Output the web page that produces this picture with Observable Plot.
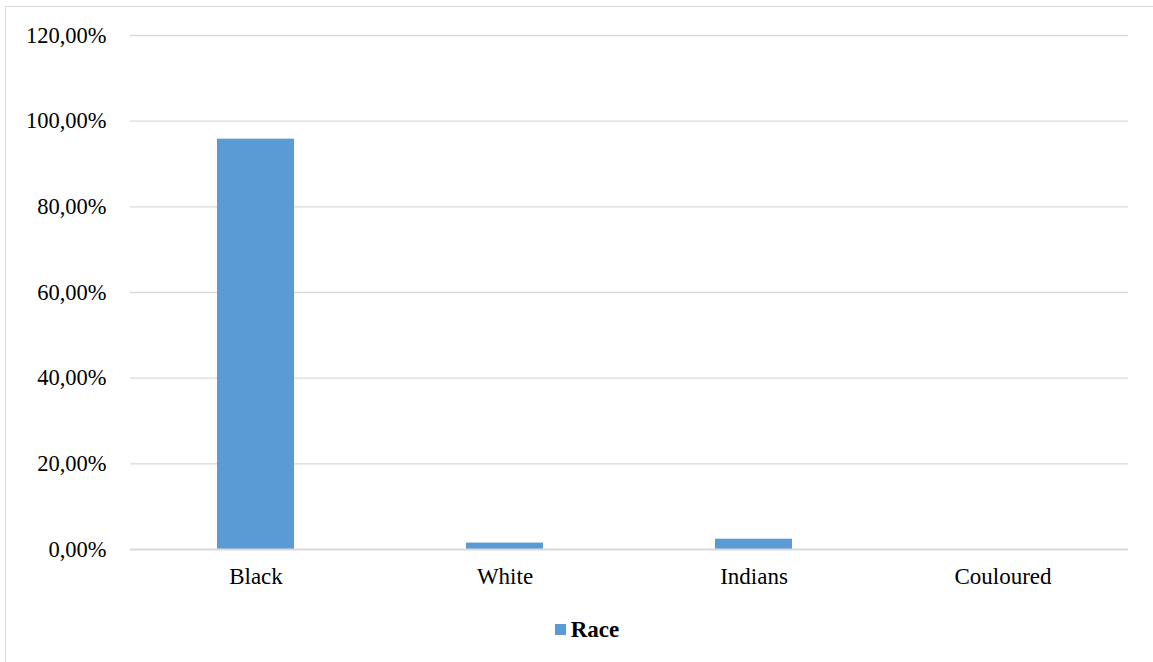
<!DOCTYPE html>
<html>
<head>
<meta charset="utf-8">
<script src="https://cdn.jsdelivr.net/npm/d3@7"></script>
<script src="https://cdn.jsdelivr.net/npm/@observablehq/plot@0.6"></script>
<style>
  html, body { margin: 0; padding: 0; background: #fff; overflow: hidden; }
  #frame {
    position: absolute; left: 5px; top: 6px; width: 1170px; height: 700px;
    border: 1.5px solid #d9d9d9; box-sizing: border-box;
  }
  #chart { position: absolute; left: 0; top: 0; }
  #legend {
    position: absolute; left: 0; top: 615px; width: 1174px; text-align: center;
    font-family: "Liberation Serif", "Times New Roman", serif; font-size: 23px;
    font-weight: bold; color: #000; line-height: 30px;
  }
  #legend .sw { display: inline-block; width: 11px; height: 11px; background: #5b9bd5; margin-right: 5px; vertical-align: 2px; }
</style>
</head>
<body>
<div id="frame"></div>
<div id="chart"></div>
<div id="legend"><span class="sw"></span>Race</div>
<script>
// Share of respondents by race (percent)
const categories = ["Black", "White", "Indians", "Couloured"];
const values = [95.8, 1.5, 2.4, 0];
const yTicks = [0, 20, 40, 60, 80, 100, 120];

const data = categories.map((c, i) => ({category: c, value: values[i]}));
const pct = d => d.toFixed(2).replace(".", ",") + "%";

const chart = Plot.plot({
  width: 1153,
  height: 600,
  marginTop: 35,
  marginBottom: 51,
  marginLeft: 130,
  marginRight: 25,
  style: {fontFamily: "'Liberation Serif', 'Times New Roman', serif", fontSize: "22px", color: "#000", background: "transparent"},
  x: {domain: categories, paddingInner: 0.69, paddingOuter: 0.345, label: null},
  y: {domain: [0, 120], ticks: yTicks, label: null},
  marks: [
    Plot.gridY(yTicks.filter(t => t > 0), {stroke: "#d9d9d9", strokeOpacity: 1, strokeWidth: 1.3}),
    Plot.barY(data, {x: "category", y: "value", fill: "#5b9bd5"}),
    Plot.ruleY([0], {stroke: "#d9d9d9", strokeWidth: 2}),
    Plot.axisY(yTicks, {tickSize: 0, tickPadding: 24, tickFormat: pct, fontSize: 22.5, fill: "#000"}),
    Plot.axisX({tickSize: 0, tickPadding: 18, fontSize: 23, fill: "#000"})
  ]
});
document.getElementById("chart").appendChild(chart);
</script>
</body>
</html>
